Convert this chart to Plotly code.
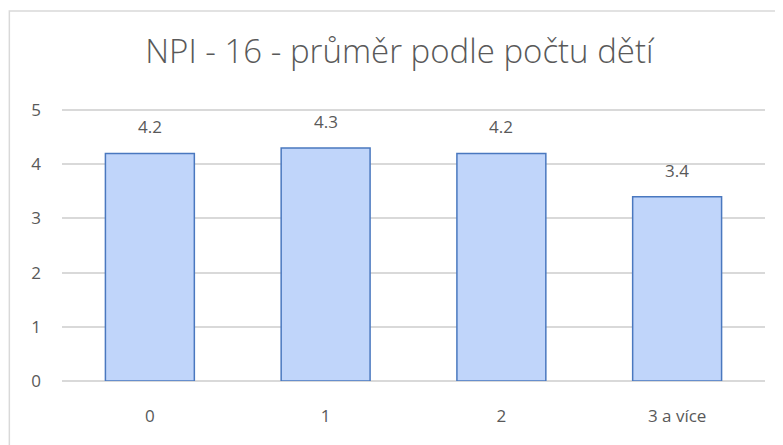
import plotly.graph_objects as go

categories = ["0", "1", "2", "3 a více"]
averages = [4.2, 4.3, 4.2, 3.4]
y_ticks = [0, 1, 2, 3, 4, 5]

font_family = "'Open Sans', Lato, sans-serif"
grey = "#595959"

fig = go.Figure()
fig.add_trace(go.Bar(
    x=categories,
    y=averages,
    width=0.506,
    marker=dict(color="#c0d5fa", line=dict(color="#4a78bf", width=1.5)),
    hoverinfo="x+y",
))

# value labels above the bars
for cat, val in zip(categories, averages):
    fig.add_annotation(
        x=cat, y=val, text="{:.1f}".format(val),
        showarrow=False, yanchor="bottom", yshift=13,
        font=dict(size=17, color=grey, family=font_family),
    )

# outer chart frame, as in the spreadsheet export
fig.add_shape(
    type="rect", xref="paper", yref="paper",
    x0=-0.0749, x1=1.05, y0=-0.4, y1=1.36,
    line=dict(color="#d9d9d9", width=1.5), fillcolor="rgba(0,0,0,0)",
)

# page body adds 8px, so the figure is 8px smaller than the window
fig.update_layout(
    width=775,
    height=437,
    autosize=False,
    margin=dict(t=101, b=64, l=53.5, r=17.5),
    paper_bgcolor="white",
    plot_bgcolor="white",
    showlegend=False,
    title=dict(
        text="NPI - 16 - průměr podle počtu dětí",
        x=0.505, xanchor="center",
        y=0.9, yanchor="middle",
        font=dict(size=33, color=grey, family=font_family, weight=300),
    ),
    font=dict(family=font_family, color=grey, size=17),
)
fig.update_xaxes(
    showgrid=False, showline=False, ticks="",
    ticklabelstandoff=23,
    tickfont=dict(size=17, color=grey),
)
fig.update_yaxes(
    range=[0, 5.02], tickvals=y_ticks,
    showgrid=True, gridcolor="#d9d9d9", gridwidth=1.5,
    zeroline=True, zerolinecolor="#d9d9d9", zerolinewidth=1.5,
    showline=False, ticks="", ticklabelstandoff=20,
    tickfont=dict(size=17, color=grey),
)

fig.write_html("out.html")
